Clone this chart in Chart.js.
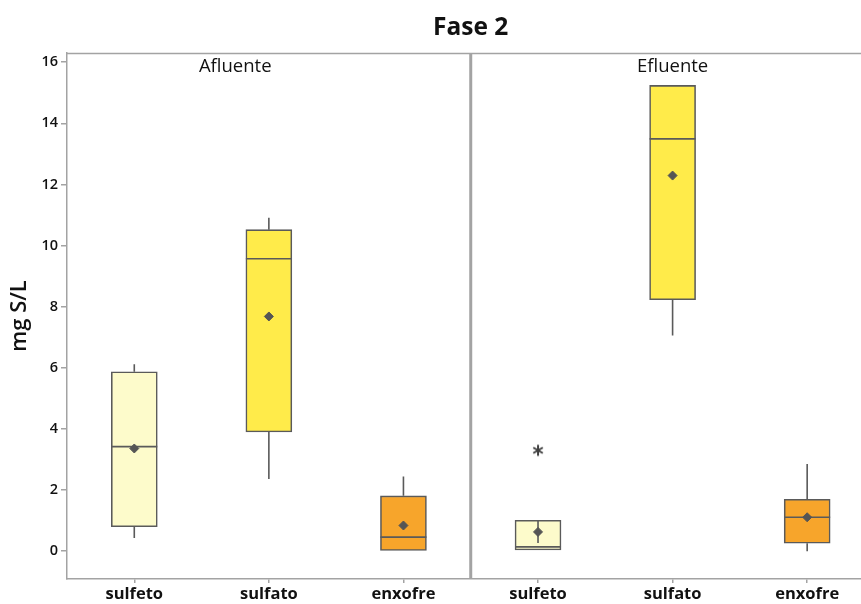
<!DOCTYPE html>
<html>
<head>
<meta charset="utf-8">
<script src="https://cdn.jsdelivr.net/npm/chart.js@4/dist/chart.umd.min.js"></script>
<style>
  html, body { margin: 0; padding: 0; background: #ffffff; overflow: hidden; }
  #wrap { width: 861px; height: 604px; }
</style>
</head>
<body>
<div id="wrap"><canvas id="chart" width="861" height="604"></canvas></div>
<script>
// Sulphur species (mg S/L), phase 2, inflow vs outflow
const chartTitle = 'Fase 2';
const panels = ['Afluente', 'Efluente'];
const species = ['sulfeto', 'sulfato', 'enxofre'];
const categories = [...species, ...species];

const q1          = [0.80, 3.90, 0.00, 0.04,  8.23, 0.26];
const median      = [3.42, 9.57, 0.46, 0.14, 13.49, 1.11];
const q3          = [5.87, 10.52, 1.81, 1.01, 15.24, 1.70];
const whiskerLow  = [0.43, 2.36, 0.00, 0.04,  7.06, 0.00];
const whiskerHigh = [6.12, 10.91, 2.44, 0.27, 15.24, 2.85];
const mean        = [3.36, 7.68, 0.84, 0.63, 12.29, 1.11];
const outlierCat  = [3];
const outlierVal  = [3.30];

const yTicks = [0, 2, 4, 6, 8, 10, 12, 14, 16];

const boxFill = { sulfeto: '#FDFBCB', sulfato: '#FFEB4A', enxofre: '#F7A52B' };
const inkGrey = '#5a5a5a';
const frameGrey = '#a3a3a3';
const fontFamily = '"Open Sans", sans-serif';

// asterisk marker for outliers
function asterisk(size) {
  const c = document.createElement('canvas');
  c.width = size; c.height = size;
  const g = c.getContext('2d');
  const r = size / 2 - 1.5, cx = size / 2, cy = size / 2;
  g.strokeStyle = '#404040';
  g.lineWidth = 2;
  for (let k = 0; k < 3; k++) {
    const a = Math.PI / 2 + k * Math.PI / 3;
    g.beginPath();
    g.moveTo(cx + r * Math.cos(a), cy + r * Math.sin(a));
    g.lineTo(cx - r * Math.cos(a), cy - r * Math.sin(a));
    g.stroke();
  }
  return c;
}

// whiskers and medians, drawn right after the boxes
const boxExtras = {
  id: 'boxExtras',
  afterDatasetDraw(chart, args) {
    if (args.index !== 0) return;
    const { ctx, scales: { x, y } } = chart;
    const half = 23;
    ctx.save();
    ctx.strokeStyle = inkGrey;
    ctx.lineWidth = 1.6;
    categories.forEach((_, i) => {
      const px = x.getPixelForValue(i);
      ctx.beginPath();
      if (whiskerHigh[i] !== q3[i]) {
        ctx.moveTo(px, y.getPixelForValue(q3[i]));
        ctx.lineTo(px, y.getPixelForValue(whiskerHigh[i]));
      }
      if (whiskerLow[i] !== q1[i]) {
        ctx.moveTo(px, y.getPixelForValue(q1[i]));
        ctx.lineTo(px, y.getPixelForValue(whiskerLow[i]));
      }
      const my = y.getPixelForValue(median[i]);
      ctx.moveTo(px - half, my);
      ctx.lineTo(px + half, my);
      ctx.stroke();
    });
    ctx.restore();
  }
};

// title, panel headers, frame top and panel divider
const frame = {
  id: 'frame',
  afterDraw(chart) {
    const { ctx, chartArea: a, scales: { x } } = chart;
    ctx.save();
    ctx.strokeStyle = frameGrey;
    ctx.lineWidth = 1.5;
    ctx.beginPath();
    ctx.moveTo(a.left, a.top + 0.5);
    ctx.lineTo(chart.width, a.top + 0.5);
    ctx.stroke();
    const dx = x.getPixelForValue(2.5);
    ctx.lineWidth = 3;
    ctx.beginPath();
    ctx.moveTo(dx, a.top);
    ctx.lineTo(dx, a.bottom);
    ctx.stroke();

    ctx.fillStyle = '#111';
    ctx.textAlign = 'center';
    ctx.textBaseline = 'middle';
    ctx.font = 'bold 24.5px ' + fontFamily;
    ctx.fillText(chartTitle, dx, 28);

    ctx.font = '18.5px ' + fontFamily;
    const headerAt = [0.75, 4];
    panels.forEach((p, k) => {
      ctx.fillText(p, x.getPixelForValue(headerAt[k]), a.top + 14);
    });
    ctx.restore();
  }
};

new Chart(document.getElementById('chart'), {
  type: 'bar',
  data: {
    datasets: [
      {
        type: 'bar',
        data: categories.map((c, i) => ({ x: i, y: [q1[i], q3[i]] })),
        backgroundColor: categories.map(c => boxFill[c]),
        borderColor: inkGrey,
        borderWidth: 1.6,
        borderSkipped: false,
        barThickness: 46,
        order: 2
      },
      {
        type: 'scatter',
        data: categories.map((c, i) => ({ x: i, y: mean[i] })),
        pointStyle: 'rectRot',
        pointRadius: 4.5,
        backgroundColor: '#555',
        borderColor: '#555',
        borderWidth: 1,
        order: 1
      },
      {
        type: 'scatter',
        data: outlierCat.map((c, i) => ({ x: c, y: outlierVal[i] })),
        pointStyle: asterisk(14),
        order: 0
      }
    ]
  },
  options: {
    responsive: false,
    animation: false,
    devicePixelRatio: 1,
    layout: { autoPadding: false, padding: { top: 53, left: 0, right: 0, bottom: 0 } },
    plugins: {
      legend: { display: false },
      tooltip: { enabled: false },
      title: { display: false }
    },
    scales: {
      x: {
        type: 'linear',
        min: -0.5,
        max: 5.4,
        offset: false,
        afterBuildTicks(s) { s.ticks = categories.map((c, i) => ({ value: i })); },
        afterFit(s) { s.height = 25; s.paddingLeft = 0; s.paddingRight = 0; },
        grid: { offset: false, drawOnChartArea: false, drawTicks: true, tickLength: 4, color: frameGrey, lineWidth: 1.5 },
        border: { display: true, color: frameGrey, width: 1.5 },
        ticks: {
          autoSkip: false,
          maxRotation: 0,
          padding: 1,
          color: '#111',
          font: { family: fontFamily, size: 16.5, weight: 'bold' },
          callback: v => categories[v]
        }
      },
      y: {
        min: -0.91,
        max: 16.3,
        afterBuildTicks(s) { s.ticks = yTicks.map(v => ({ value: v })); },
        afterFit(s) { s.width = 67; },
        grid: { drawOnChartArea: false, drawTicks: true, tickLength: 6, color: frameGrey, lineWidth: 1.5 },
        border: { display: true, color: frameGrey, width: 1.5 },
        ticks: {
          padding: 3,
          color: '#111',
          font: { family: fontFamily, size: 14.5, weight: '600' }
        },
        title: {
          display: true,
          text: 'mg S/L',
          color: '#111',
          padding: { top: 7, bottom: 0 },
          font: { family: fontFamily, size: 22, weight: '600' }
        }
      }
    }
  },
  plugins: [boxExtras, frame]
});
</script>
</body>
</html>
